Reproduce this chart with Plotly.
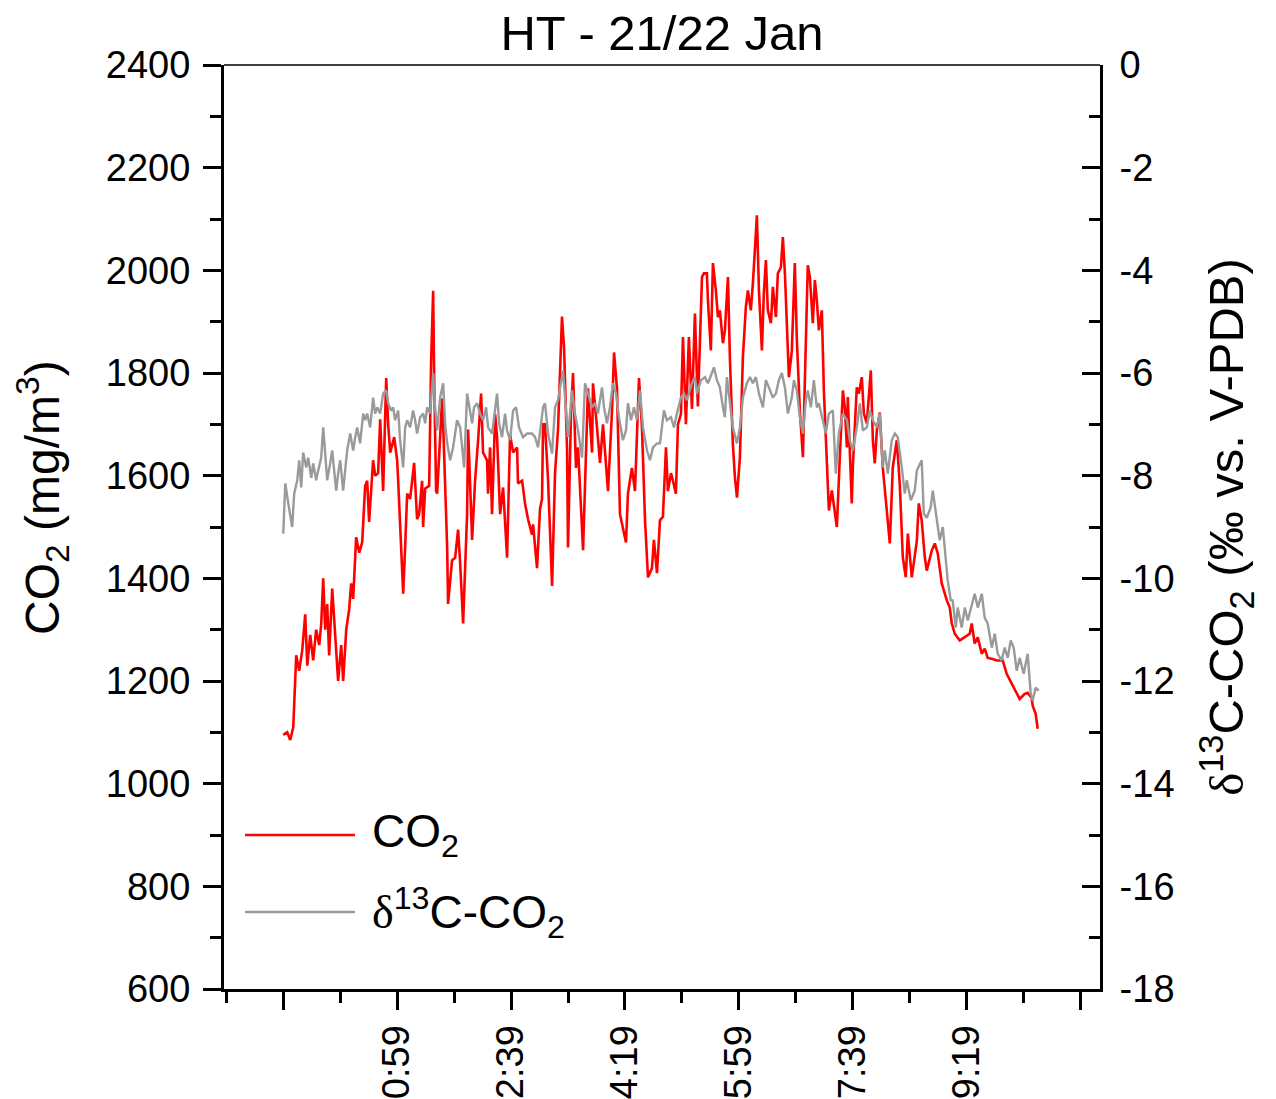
import plotly.graph_objects as go

# ---- data (time in minutes relative to 0:00) ----
co2_time = [-41.0, -37.5, -34.9, -32.2, -29.6, -27.0, -24.3, -21.7, -19.9, -17.3, -14.7, -12.1, -9.4, -7.7,
            -5.9, -4.2, -2.4, -0.7, 2.0, 4.6, 7.2, 9.9, 11.6, 14.3, 16.9, 18.6, 20.4, 23.0, 25.7, 28.3,
            30.9, 32.7, 34.4, 37.9, 39.7, 42.3, 44.1, 46.7, 49.4, 51.1, 52.9, 56.4, 59.0, 59.9, 62.5,
            64.3, 66.0, 67.8, 70.4, 73.9, 76.5, 78.3, 80.9, 81.8, 83.6, 87.1, 88.8, 90.6, 91.5, 93.2,
            94.1, 98.5, 99.4, 102.9, 103.7, 107.2, 109.9, 112.5, 114.3, 116.9, 120.4, 121.3, 124.8,
            127.4, 130.1, 132.7, 134.4, 137.9, 138.8, 140.6, 142.3, 145.0, 146.7, 149.4, 152.0, 155.5,
            158.1, 160.8, 164.3, 165.1, 168.7, 171.3, 173.9, 177.4, 178.3, 181.8, 184.4, 186.2, 187.1,
            188.8, 191.5, 195.0, 197.6, 200.2, 203.7, 205.5, 208.1, 209.0, 211.6, 213.4, 216.0, 217.8,
            222.2, 226.5, 230.1, 230.9, 234.4, 237.1, 239.7, 244.1, 247.6, 249.4, 252.0, 254.6, 259.9,
            261.6, 265.1, 267.8, 271.3, 273.9, 276.6, 279.2, 282.7, 284.4, 287.1, 289.7, 292.3, 295.0,
            296.7, 299.4, 301.1, 303.7, 305.5, 308.1, 309.9, 312.5, 315.1, 317.8, 320.4, 323.0, 326.6,
            328.3, 330.9, 331.8, 334.4, 336.2, 338.8, 340.6, 342.3, 345.0, 346.7, 349.4, 351.1, 353.7,
            355.5, 357.3, 359.9, 362.5, 365.1, 366.9, 369.5, 371.3, 374.8, 376.6, 379.2, 380.9, 382.7,
            384.4, 387.1, 388.8, 391.5, 393.2, 395.9, 397.6, 399.4, 401.1, 402.9, 405.5, 408.1, 409.9,
            412.5, 415.2, 416.9, 419.5, 421.3, 423.9, 425.7, 427.4, 429.2, 431.8, 433.6, 436.2, 438.0,
            440.6, 445.0, 447.6, 450.3, 452.0, 453.8, 454.6, 458.1, 459.0, 462.5, 464.3, 466.9, 468.7,
            471.3, 474.8, 476.6, 478.3, 480.1, 482.7, 485.3, 488.0, 491.5, 494.1, 495.9, 497.6, 500.2,
            502.9, 505.5, 507.3, 510.8, 515.2, 516.9, 519.5, 522.2, 523.9, 528.3, 531.0, 533.6, 537.1,
            541.5, 544.1, 545.9, 548.5, 552.9, 557.3, 561.6, 563.4, 566.0, 568.7, 572.2, 574.8, 577.4,
            581.8, 585.3, 590.6, 594.1, 598.5, 602.9, 605.5, 609.9, 612.5, 616.0, 616.9, 619.5, 621.3]
co2_values = [1095, 1100, 1085, 1110, 1250, 1220, 1260, 1330, 1230, 1290, 1240, 1300, 1270, 1310,
              1400, 1300, 1350, 1250, 1380, 1280, 1200, 1270, 1200, 1300, 1340, 1390, 1360, 1480, 1450, 1470,
              1580, 1590, 1510, 1630, 1600, 1605, 1710, 1570, 1790, 1700, 1645, 1675, 1630, 1590, 1475,
              1370, 1460, 1565, 1555, 1625, 1515, 1525, 1590, 1500, 1575, 1580, 1820, 1960, 1790, 1570,
              1565, 1750, 1700, 1460, 1350, 1435, 1440, 1495, 1430, 1312, 1525, 1690, 1475,
              1590, 1670, 1760, 1645, 1630, 1565, 1655, 1525, 1720, 1675, 1525, 1577, 1440,
              1680, 1645, 1655, 1585, 1590, 1545, 1515, 1485, 1505, 1420, 1535, 1555, 1700,
              1700, 1590, 1385, 1605, 1690, 1910, 1850, 1655, 1460, 1720, 1800, 1615, 1655,
              1455, 1770, 1645, 1780, 1695, 1625, 1700, 1570, 1725, 1840, 1770, 1525, 1470,
              1565, 1615, 1570, 1790, 1695, 1513, 1402, 1420, 1475, 1410, 1513, 1520, 1655,
              1570, 1605, 1590, 1565, 1700, 1720, 1870, 1700, 1870, 1730, 1916, 1735, 1987,
              1994, 1994, 1942, 1844, 2014, 1961, 1909, 1922, 1858, 1883, 1987, 1830, 1663,
              1597, 1557, 1636, 1830, 1928, 1961, 1922, 1975, 2107, 1961, 1844, 1955, 2020,
              1922, 1897, 1968, 1909, 1994, 2006, 2065, 1994, 1909, 1792, 1844, 2014, 1864,
              1727, 1636, 1766, 2010, 1987, 1897, 1981, 1942, 1883, 1922, 1766, 1604, 1532,
              1571, 1500, 1636, 1766, 1733, 1655, 1753, 1546, 1616, 1772, 1760, 1792, 1721,
              1702, 1805, 1669, 1624, 1688, 1723, 1616, 1552, 1468, 1616, 1649, 1669, 1585,
              1441, 1402, 1487, 1402, 1473, 1546, 1513, 1441, 1415, 1454, 1468, 1448, 1390,
              1357, 1343, 1312, 1292, 1279, 1285, 1292, 1312, 1273, 1285, 1253, 1263, 1245,
              1243, 1240, 1240, 1214, 1195, 1175, 1165, 1175, 1177, 1167, 1152, 1136, 1107]

d13c_time = [-41.0, -39.2, -36.6, -33.1, -31.4, -28.7, -27.0, -25.2, -23.5, -20.8, -19.1, -16.4, -14.7,
             -12.1, -10.3, -7.7, -5.9, -4.2, -2.4, 0.2, 2.0, 3.7, 5.5, 7.2, 9.0, 11.6, 13.4, 15.1, 17.8,
             20.4, 22.2, 23.9, 26.5, 29.2, 30.9, 32.7, 35.3, 37.9, 39.7, 41.5, 44.1, 46.7, 49.4, 51.1,
             53.7, 55.5, 57.2, 59.9, 61.6, 64.3, 66.0, 67.8, 70.4, 73.0, 74.8, 76.5, 79.2, 81.8, 83.6,
             85.3, 87.9, 90.6, 92.3, 94.1, 96.7, 99.4, 101.1, 102.9, 105.5, 108.1, 109.9, 111.6, 114.3,
             116.9, 117.8, 120.4, 122.2, 124.8, 126.5, 129.2, 131.8, 134.4, 137.1, 138.8, 142.3, 145.0,
             146.7, 148.5, 151.1, 153.7, 155.5, 158.1, 160.8, 163.4, 166.0, 169.5, 173.0, 177.4, 180.1,
             182.7, 185.3, 187.1, 188.8, 191.5, 195.0, 197.6, 200.2, 204.6, 206.4, 209.0, 212.5, 215.1,
             217.8, 221.3, 223.9, 226.5, 230.1, 232.7, 235.3, 238.8, 240.6, 243.2, 245.8, 248.5, 251.1,
             253.7, 257.2, 259.9, 261.6, 264.3, 266.9, 269.5, 272.2, 274.8, 278.3, 280.9, 283.6, 287.1,
             289.7, 293.2, 295.8, 299.4, 302.0, 304.6, 308.1, 310.8, 313.4, 317.8, 320.4, 322.2, 325.7,
             329.2, 331.8, 335.3, 337.1, 339.7, 342.3, 345.0, 346.7, 348.5, 352.0, 353.7, 357.3, 359.9,
             362.5, 366.0, 368.7, 371.3, 373.9, 376.6, 380.1, 382.7, 385.3, 388.8, 391.5, 394.1, 396.7,
             399.4, 402.0, 405.5, 407.3, 409.9, 412.5, 415.2, 417.8, 419.5, 422.2, 424.8, 427.4, 429.2,
             432.7, 435.3, 438.0, 441.5, 444.1, 446.7, 450.3, 453.8, 456.4, 459.0, 462.5, 465.2, 467.8,
             471.3, 473.9, 476.6, 480.1, 482.7, 485.3, 487.1, 489.7, 493.2, 495.9, 498.5, 502.0, 504.6,
             506.4, 509.9, 513.4, 515.2, 519.5, 521.3, 523.9, 527.4, 529.2, 532.7, 535.3, 538.0, 539.7,
             542.3, 545.0, 546.7, 549.4, 551.1, 554.6, 557.3, 559.9, 563.4, 566.0, 568.7, 572.2, 574.8,
             577.4, 581.0, 583.6, 586.2, 589.7, 592.3, 595.0, 597.6, 600.2, 602.9, 605.5, 609.0, 612.5,
             615.2, 616.9, 619.5, 622.2]
d13c_values = [-9.13, -8.15, -8.54, -9.0, -8.35, -8.09, -7.7, -8.23, -7.55, -7.84, -7.65, -8.04, -7.76,
               -8.09, -7.9, -7.65, -7.06, -7.57, -8.09, -7.76, -7.51, -7.9, -8.29, -7.96, -7.7, -8.29, -7.84, -7.51, -7.18,
               -7.51, -7.25, -7.06, -7.37, -6.79, -6.92, -6.79, -7.06, -6.48, -6.79, -6.67, -6.79, -6.4, -6.34, -6.59,
               -6.73, -6.67, -6.92, -6.73, -7.31, -7.84, -7.06, -6.92, -7.06, -6.73, -6.92, -7.18, -6.86, -6.79, -6.98,
               -6.67, -6.79, -6.0, -6.67, -7.12, -6.48, -6.2, -6.98, -7.37, -7.7, -7.45, -7.18, -6.92, -7.06,
               -7.57, -7.84, -6.4, -6.67, -6.98, -6.67, -6.59, -6.79, -6.92, -6.67, -7.06, -7.18, -6.67,
               -6.4, -6.98, -7.25, -6.79, -7.12, -7.31, -6.73, -6.67, -7.06, -7.25, -7.18, -7.18, -7.25,
               -7.45, -6.98, -6.67, -6.59, -7.18, -7.57, -6.67, -6.53, -5.95, -6.48, -7.25, -6.34, -6.79,
               -7.12, -7.65, -6.2, -6.4, -6.67, -6.59, -6.79, -6.28, -6.67, -6.98, -6.67, -6.2, -6.4,
               -6.86, -7.31, -7.12, -6.59, -6.92, -6.67, -6.92, -6.34, -7.06, -7.51, -7.7, -7.45, -7.37,
               -7.37, -6.73, -6.92, -6.86, -7.06, -6.79, -6.48, -6.4, -6.53, -6.2, -6.08, -6.4, -6.14,
               -6.08, -6.2, -6.0, -5.89, -6.14, -6.28, -6.67, -6.86, -6.08, -6.67, -7.06, -7.37, -7.06,
               -6.48, -6.2, -6.08, -6.2, -6.08, -6.4, -6.67, -6.14, -6.28, -6.48, -6.4, -6.14, -6.0,
               -6.28, -6.79, -6.48, -6.14, -6.34, -6.86, -7.18, -6.53, -6.34, -6.67, -6.14, -6.67, -6.59,
               -6.92, -7.18, -6.79, -6.73, -7.96, -7.18, -6.79, -6.92, -7.31, -7.51, -7.06, -6.59, -7.12,
               -7.06, -6.73, -6.92, -7.06, -6.79, -7.84, -7.51, -7.96, -7.31, -7.18, -7.25, -7.84, -8.35,
               -8.09, -8.48, -8.29, -7.9, -7.7, -8.74, -8.82, -8.62, -8.29, -8.82, -9.26, -9.0, -9.4,
               -10.04, -10.43, -10.43, -10.96, -10.57, -10.96, -10.57, -10.82, -10.49, -10.3, -10.57, -10.3, -10.77,
               -10.88, -11.35, -11.08, -11.47, -11.6, -11.35, -11.55, -11.21, -11.35, -11.8, -11.55, -11.86, -11.47,
               -12.25, -12.38, -12.13, -12.19]

x_tick_vals = [-41, 59, 159, 259, 359, 459, 559, 659]
x_tick_text = ["", "0:59", "2:39", "4:19", "5:59", "7:39", "9:19", ""]
x_minor_vals = [-91, 9, 109, 209, 309, 409, 509, 609]
y2_tick_vals = [-18, -16, -14, -12, -10, -8, -6, -4, -2, 0]
y2_tick_text = ["-18", "-16", "-14", "-12", "-10", "-8", "-6", "-4", "-2", "0"]

FONT = "Arial, Liberation Sans, sans-serif"
DELTA = '<span style="font-family:Liberation Serif">δ</span>'

fig = go.Figure()
fig.add_trace(go.Scatter(x=co2_time, y=co2_values, mode="lines", name="CO<sub>2</sub>",
                         line=dict(color="#FF0000", width=2.6), yaxis="y"))
fig.add_trace(go.Scatter(x=d13c_time, y=d13c_values, mode="lines",
                         name=DELTA + "<sup>13</sup>C-CO<sub>2</sub>",
                         line=dict(color="#9A9A9A", width=2.4), yaxis="y2"))

axis_common = dict(showline=True, linecolor="black", linewidth=3, showgrid=False, zeroline=False,
                   tickcolor="black", tickwidth=3, ticklen=18,
                   tickfont=dict(family=FONT, size=38, color="black"))

fig.update_layout(
    width=1276, height=1099,
    margin=dict(l=224, r=176, t=65, b=110, autoexpand=False),
    paper_bgcolor="white", plot_bgcolor="white",
    showlegend=False,
    font=dict(family=FONT, color="black"),
    title=dict(text="HT - 21/22 Jan", x=0.5, xref="paper", xanchor="center",
               y=1 - 33 / 1099, yref="container", yanchor="middle",
               font=dict(family=FONT, size=49, color="black")),
    xaxis=dict(**axis_common, range=[-93, 676], ticks="outside",
               tickmode="array", tickvals=x_tick_vals, ticktext=x_tick_text, tickangle=-90,
               minor=dict(tickmode="array", tickvals=x_minor_vals, ticks="outside",
                          ticklen=11, tickwidth=3, tickcolor="black")),
    yaxis=dict(**axis_common, range=[600, 2400], dtick=200, ticks="outside", ticklabelstandoff=5,
               minor=dict(dtick=100, ticks="outside", ticklen=11, tickwidth=3, tickcolor="black")),
    yaxis2=dict(**axis_common, range=[-18, 0], ticks="inside", side="right",
                tickmode="array", tickvals=y2_tick_vals, ticktext=y2_tick_text,
                overlaying="y", anchor="x", ticklabelstandoff=9,
                minor=dict(dtick=1, ticks="inside", ticklen=11, tickwidth=3, tickcolor="black"),
                title=dict(text=DELTA + "<sup>13</sup>C-CO<sub>2</sub> (‰ vs. V-PDB)", standoff=36,
                           font=dict(family=FONT, size=49, color="black"))),
)

# left axis title (placed as in the reference)
fig.add_annotation(text="CO<sub>2</sub> (mg/m<sup>3</sup>)", xref="paper", yref="paper",
                   x=(42 - 224) / 876, y=(989 - 498) / 924, xanchor="center", yanchor="middle",
                   textangle=-90, showarrow=False, font=dict(family=FONT, size=48, color="black"))

# thin top frame line
fig.add_shape(type="line", xref="paper", yref="paper", x0=0, x1=1, y0=1, y1=1,
              line=dict(color="black", width=1.5))

# legend drawn inside the plot area
legend_items = [("CO<sub>2</sub>", "#FF0000", 2.6, 0.1667),
                (DELTA + "<sup>13</sup>C-CO<sub>2</sub>", "#9A9A9A", 2.4, 0.0833)]
for label, color, w, yy in legend_items:
    fig.add_shape(type="line", xref="paper", yref="paper", x0=0.024, x1=0.1495, y0=yy, y1=yy,
                  line=dict(color=color, width=w))
    fig.add_annotation(text=label, xref="paper", yref="paper", x=0.1667, y=yy,
                       xanchor="left", yanchor="middle", showarrow=False,
                       font=dict(family=FONT, size=46, color="black"))

fig.write_html("out.html")
